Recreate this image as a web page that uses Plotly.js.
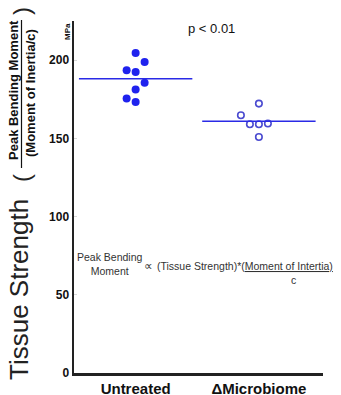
<!DOCTYPE html>
<html>
<head>
<meta charset="utf-8">
<script src="https://cdn.plot.ly/plotly-3.0.1.min.js"></script>
<style>html,body{margin:0;padding:0;background:#fff;}#chart{width:341px;height:395px;}</style>
</head>
<body>
<div id="chart"></div>
<script>
// ---- data ----
const categories = ['Untreated', '\u0394Microbiome'];
const untreatedValues = [204.5, 198.8, 193.5, 192.4, 185.6, 181.2, 175.4, 173.2];
const untreatedColumn = [0, 1, -1, 0, 1, 0, -1, 0];
const microbiomeValues = [172.2, 164.8, 159.0, 159.0, 159.5, 150.9];
const microbiomeColumn = [0, -2, -1, 0, 1, 0];
const yTickValues = [0, 50, 100, 150, 200];
const pText = 'p < 0.01';

// ---- layout helpers ----
const W = 341, H = 395;
const M = {l: 74, r: 18, t: 21, b: 22};
const PW = W - M.l - M.r, PH = H - M.t - M.b;
const px = x => (x - M.l) / PW;
const py = y => (H - M.b - y) / PH;
const step = 0.073;
const mean = a => a.reduce((s, v) => s + v, 0) / a.length;
const FONT = 'Liberation Sans, Arial, sans-serif';

const blue = '#1f22ee';
const traces = [
  {
    type: 'scatter', mode: 'markers',
    x: untreatedColumn.map(c => 0 + c * step), y: untreatedValues,
    marker: {color: blue, size: 8, line: {width: 0}},
    hoverinfo: 'y'
  },
  {
    type: 'scatter', mode: 'markers',
    x: microbiomeColumn.map(c => 1 + c * step), y: microbiomeValues,
    marker: {color: '#4b4bd0', size: 6.5, symbol: 'circle-open', line: {color: '#4b4bd0', width: 1.6}},
    hoverinfo: 'y'
  },
  {
    type: 'scatter', mode: 'lines',
    x: [-0.46, 0.46], y: [mean(untreatedValues), mean(untreatedValues)],
    line: {color: '#2a2ae6', width: 1.6}, hoverinfo: 'skip'
  },
  {
    type: 'scatter', mode: 'lines',
    x: [0.54, 1.46], y: [mean(microbiomeValues), mean(microbiomeValues)],
    line: {color: '#2a2ae6', width: 1.6}, hoverinfo: 'skip'
  }
];

const ann = (text, x, y, size, opts) => Object.assign({
  text: text, xref: 'paper', yref: 'paper', x: px(x), y: py(y),
  showarrow: false, xanchor: 'center', yanchor: 'middle',
  font: {family: FONT, size: size, color: '#111'}
}, opts || {});

const eqColor = '#333';
const eqSize = 10.5;
const layout = {
  width: W, height: H,
  margin: M,
  paper_bgcolor: '#fff', plot_bgcolor: '#fff',
  showlegend: false,
  font: {family: FONT, color: '#111'},
  xaxis: {
    range: [-0.5, 1.52], tickvals: [0, 1], ticktext: categories,
    showline: true, linecolor: '#222', linewidth: 2.5,
    showgrid: false, zeroline: false, ticks: '',
    tickfont: {family: FONT, size: 15, color: '#111', weight: 'bold'}
  },
  yaxis: {
    range: [0, 225], tickvals: yTickValues,
    showline: true, linecolor: '#222', linewidth: 2.5,
    showgrid: false, zeroline: false,
    ticks: 'inside', ticklen: 3, tickcolor: '#d8d8d8', tickwidth: 1,
    tickfont: {family: FONT, size: 12, color: '#111', weight: 'bold'}
  },
  annotations: [
    ann('Tissue Strength', 19, 290, 26, {textangle: -90, font: {family: FONT, size: 26, color: '#222'}}),
    ann('(', 21, 178, 24, {textangle: -90, font: {family: FONT, size: 24, color: '#222'}}),
    ann(')', 21, 11, 24, {textangle: -90, font: {family: FONT, size: 24, color: '#222'}}),
    ann('<b>Peak Bending Moment</b>', 13, 90, 13, {textangle: -90}),
    ann('<b>(Moment of Inertia/c)</b>', 30, 93, 13, {textangle: -90}),
    ann('<b>MPa</b>', 67, 32, 8, {textangle: -90}),
    ann(pText, 211, 29, 13),
    ann('Peak Bending<br>Moment', 110, 264, eqSize, {font: {family: FONT, size: eqSize, color: eqColor}}),
    ann('\u221D', 148, 266, 12, {font: {family: FONT, size: 12, color: eqColor}}),
    ann('(Tissue Strength)*(<u>Moment of Intertia)</u>', 155, 266, eqSize, {xanchor: 'left', font: {family: FONT, size: eqSize, color: eqColor}}),
    ann('c', 293, 280, eqSize, {font: {family: FONT, size: eqSize, color: eqColor}})
  ],
  shapes: [
    {type: 'line', xref: 'paper', yref: 'paper', x0: px(21.5), x1: px(21.5), y0: py(20), y1: py(168), line: {color: '#111', width: 1.2}}
  ]
};

Plotly.newPlot('chart', traces, layout, {staticPlot: true, displayModeBar: false});
</script>
</body>
</html>
